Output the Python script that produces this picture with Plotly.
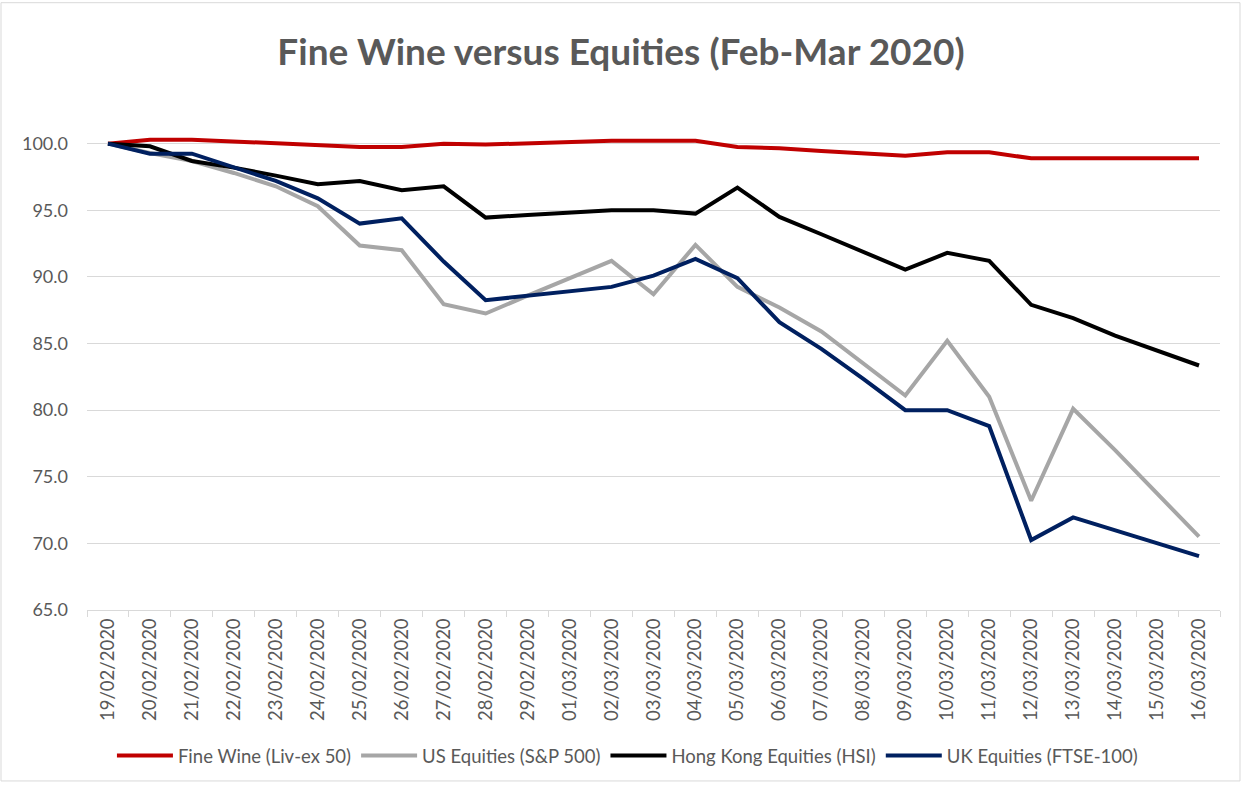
import plotly.graph_objects as go

dates = ["19/02/2020", "20/02/2020", "21/02/2020", "22/02/2020", "23/02/2020", "24/02/2020",
         "25/02/2020", "26/02/2020", "27/02/2020", "28/02/2020", "29/02/2020", "01/03/2020",
         "02/03/2020", "03/03/2020", "04/03/2020", "05/03/2020", "06/03/2020", "07/03/2020",
         "08/03/2020", "09/03/2020", "10/03/2020", "11/03/2020", "12/03/2020", "13/03/2020",
         "14/03/2020", "15/03/2020", "16/03/2020"]

fine_wine = [100.0, 100.3, 100.3, 100.17, 100.05, 99.9, 99.75, 99.75, 100.0, 99.93, 100.05, 100.15,
             100.22, 100.22, 100.22, 99.75, 99.65, 99.45, 99.3, 99.1, 99.35, 99.35, 98.9, 98.9,
             98.9, 98.9, 98.9]
us_equities = [100.0, 99.3, 98.7, 97.8, 96.8, 95.3, 92.35, 92.0, 87.95, 87.25, 88.6, 89.9,
               91.2, 88.7, 92.4, 89.25, 87.7, 85.9, 83.5, 81.1, 85.2, 81.0, 73.2, 80.1,
               77.0, 73.75, 70.5]
hk_equities = [100.0, 99.8, 98.7, 98.2, 97.6, 96.95, 97.2, 96.5, 96.8, 94.45, 94.65, 94.85,
               95.0, 95.0, 94.75, 96.7, 94.5, 93.2, 91.9, 90.55, 91.8, 91.2, 87.9, 86.9,
               85.6, 84.45, 83.35]
uk_equities = [100.0, 99.25, 99.25, 98.25, 97.2, 95.9, 94.0, 94.4, 91.15, 88.25, 88.6, 88.9,
               89.25, 90.1, 91.35, 89.9, 86.6, 84.6, 82.35, 80.0, 80.0, 78.8, 70.25, 71.95,
               71.0, 70.0, 69.05]

y_ticks = [65, 70, 75, 80, 85, 90, 95, 100]

series = [
    ("Fine Wine (Liv-ex 50)", fine_wine, "#C00000"),
    ("US Equities (S&P 500)", us_equities, "#A6A6A6"),
    ("Hong Kong Equities (HSI)", hk_equities, "#000000"),
    ("UK Equities (FTSE-100)", uk_equities, "#002060"),
]

FONT = "Lato"
TXT = "#595959"

fig = go.Figure()
for name, vals, col in series:
    fig.add_trace(go.Scatter(x=dates, y=vals, name=name, mode="lines",
                             line=dict(color=col, width=4)))

fig.update_layout(
    width=1242, height=787,
    paper_bgcolor="white", plot_bgcolor="white",
    margin=dict(l=87, r=22, t=117, b=174),
    title=dict(text="<b>Fine Wine versus Equities (Feb-Mar 2020)</b>",
               x=0.5, xanchor="center", y=0.934, yanchor="middle",
               font=dict(family=FONT, size=37, color=TXT)),
    font=dict(family=FONT, color=TXT),
    showlegend=True,
    legend=dict(orientation="h", x=0.477, xanchor="center", y=-0.296, yanchor="middle",
                font=dict(family=FONT, size=18.5, color=TXT), itemwidth=56,
                traceorder="normal"),
    xaxis=dict(type="category", tickangle=-90, tickfont=dict(size=18.5, color=TXT),
               showgrid=False, showline=True, linecolor="#D9D9D9", linewidth=1,
               ticks="outside", tickson="boundaries", ticklen=6, tickcolor="#D9D9D9",
               range=[-0.5, len(dates) - 0.5], automargin=False),
    yaxis=dict(range=[65, 102], tickvals=y_ticks, ticktext=[f"{v:.1f}" for v in y_ticks],
               tickfont=dict(size=18, color=TXT), showgrid=True, gridcolor="#D9D9D9",
               gridwidth=1, zeroline=False, showline=False, ticks="",
               ticklabelstandoff=18, automargin=False),
    shapes=[dict(type="rect", xref="paper", yref="paper",
                 x0=-86 / 1133, x1=1 + 20 / 1133, y0=-172 / 496, y1=1 + 115 / 496,
                 line=dict(color="#D9D9D9", width=1), fillcolor="rgba(0,0,0,0)", layer="below")],
)

fig.write_html("out.html", config={"displayModeBar": False},
               post_script="document.body.style.margin='0';")
